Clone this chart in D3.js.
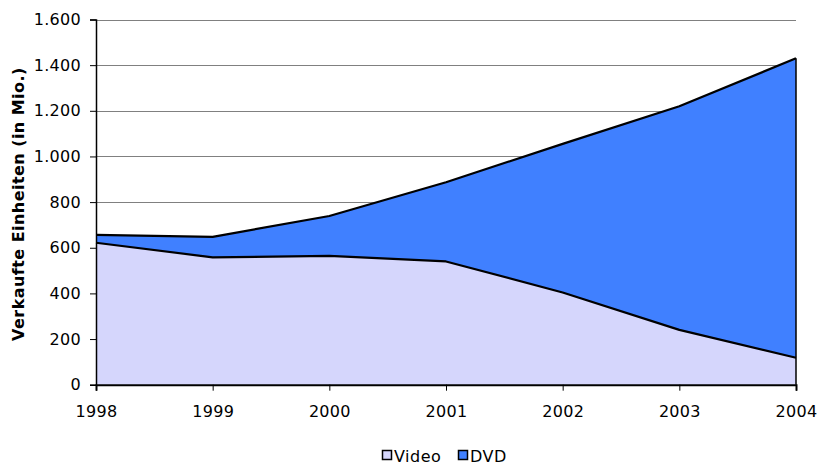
<!DOCTYPE html>
<html>
<head>
<meta charset="utf-8">
<script src="https://cdn.jsdelivr.net/npm/d3@7/dist/d3.min.js"></script>
<style>
  html, body { margin: 0; padding: 0; background: #fff; }
  svg { display: block; font-family: "DejaVu Sans", Verdana, sans-serif; }
</style>
</head>
<body>
<svg id="chart" width="818" height="464"></svg>
<script>
// Verkaufte Einheiten (Mio.) von Video und DVD, 1998–2004
const years = [1998, 1999, 2000, 2001, 2002, 2003, 2004];
const videoValues = [622, 558, 564, 540, 404, 240, 118];
const dvdValues = [34, 90, 175, 347, 651, 980, 1312];
const yTicks = [0, 200, 400, 600, 800, 1000, 1200, 1400, 1600];
const seriesNames = ["Video", "DVD"];
const seriesColors = ["#D5D6FC", "#4080FF"];

const svg = d3.select("#chart");
const margin = { left: 96, right: 22, top: 19.5, bottom: 79.3 };
const W = 818, H = 464;
const FONT = "'DejaVu Sans', Verdana, sans-serif";

const x = d3.scaleLinear().domain([1998, 2004]).range([margin.left, W - margin.right]);
const y = d3.scaleLinear().domain([0, 1600]).range([H - margin.bottom, margin.top]);

const fmt = d3.formatLocale({ decimal: ",", thousands: ".", grouping: [3], currency: ["", " €"] }).format(",d");

// gridlines
svg.append("g")
  .selectAll("line")
  .data(yTicks.filter(d => d > 0))
  .join("line")
  .attr("x1", x(1998)).attr("x2", x(2004))
  .attr("y1", d => Math.round(y(d)) + 0.5).attr("y2", d => Math.round(y(d)) + 0.5)
  .attr("stroke", "#808080").attr("stroke-width", 1);

// stacked areas
const rows = years.map((yr, i) => ({ year: yr, Video: videoValues[i], DVD: dvdValues[i] }));
const stacked = d3.stack().keys(seriesNames)(rows);

const area = d3.area()
  .x(d => x(d.data.year))
  .y0(d => y(d[0]))
  .y1(d => y(d[1]));

svg.append("g")
  .selectAll("path")
  .data(stacked)
  .join("path")
  .attr("d", area)
  .attr("fill", (d, i) => seriesColors[i]);

// series outlines (top edge of each layer)
const topLine = d3.line()
  .x(d => x(d.data.year))
  .y(d => y(d[1]));

svg.append("g")
  .selectAll("path")
  .data(stacked)
  .join("path")
  .attr("d", topLine)
  .attr("fill", "none")
  .attr("stroke", "#000")
  .attr("stroke-width", 2.2)
  .attr("stroke-linejoin", "round");

// right edge of the stack
svg.append("line")
  .attr("x1", x(2004)).attr("x2", x(2004))
  .attr("y1", y(0)).attr("y2", y(videoValues[6] + dvdValues[6]))
  .attr("stroke", "#000").attr("stroke-width", 1.5);

// y axis
const yAxis = svg.append("g")
  .attr("transform", `translate(${x(1998)},0)`)
  .call(d3.axisLeft(y).tickValues(yTicks).tickFormat(fmt).tickSize(6).tickPadding(9));
yAxis.select(".domain").attr("stroke", "#000").attr("stroke-width", 1.5);
yAxis.selectAll(".tick line").attr("stroke", "#000");
yAxis.selectAll("text").attr("font-size", 16).attr("letter-spacing", 0.3).attr("fill", "#000")
  .attr("font-family", FONT);

// x axis
const xAxis = svg.append("g")
  .attr("transform", `translate(0,${y(0)})`)
  .call(d3.axisBottom(x).tickValues(years).tickFormat(d3.format("d")).tickSize(6).tickPadding(14.5));
xAxis.select(".domain").attr("stroke", "#000").attr("stroke-width", 2);
xAxis.selectAll(".tick line").attr("stroke", "#000");
xAxis.selectAll("text").attr("font-size", 16).attr("letter-spacing", 0.3).attr("fill", "#000")
  .attr("font-family", FONT);

// y axis title
svg.append("text")
  .attr("transform", `translate(24,${(y(0) + y(1600)) / 2 + 2}) rotate(-90)`)
  .attr("text-anchor", "middle")
  .attr("font-size", 16)
  .attr("letter-spacing", 0.45)
  .attr("font-weight", "bold")
  .text("Verkaufte Einheiten (in Mio.)");

// legend
const legendItems = [
  { name: seriesNames[0], color: seriesColors[0], bx: 382, tx: 394 },
  { name: seriesNames[1], color: seriesColors[1], bx: 458, tx: 470 }
];
const lg = svg.append("g");
lg.selectAll("rect")
  .data(legendItems)
  .join("rect")
  .attr("x", d => d.bx + 0.5).attr("y", 450.5)
  .attr("width", 9).attr("height", 9)
  .attr("fill", d => d.color)
  .attr("stroke", "#000").attr("stroke-width", 1.5);
lg.selectAll("text")
  .data(legendItems)
  .join("text")
  .attr("x", d => d.tx).attr("y", 461.5)
  .attr("font-size", 16)
  .attr("letter-spacing", 0.5)
  .text(d => d.name);
</script>
</body>
</html>
